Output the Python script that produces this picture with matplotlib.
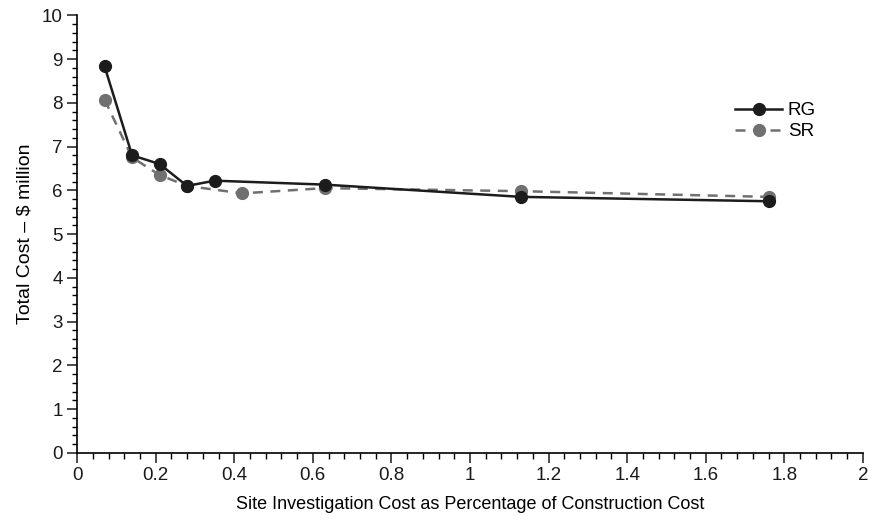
import matplotlib
matplotlib.use("Agg")
import matplotlib.pyplot as plt
from matplotlib.ticker import MultipleLocator

plt.rcParams['font.family'] = ['Liberation Sans', 'DejaVu Sans']

# Total cost vs. site investigation spend, two approaches
rg_x = [0.07, 0.14, 0.21, 0.28, 0.35, 0.63, 1.13, 1.76]
rg_y = [8.83, 6.80, 6.60, 6.10, 6.22, 6.13, 5.85, 5.75]

sr_x = [0.07, 0.14, 0.21, 0.28, 0.42, 0.63, 1.13, 1.76]
sr_y = [8.07, 6.75, 6.35, 6.10, 5.93, 6.05, 5.98, 5.85]

x_ticks = [0, 0.2, 0.4, 0.6, 0.8, 1.0, 1.2, 1.4, 1.6, 1.8, 2.0]
x_tick_labels = ['0', '0.2', '0.4', '0.6', '0.8', '1', '1.2', '1.4', '1.6', '1.8', '2']


def main():
    fig = plt.figure(figsize=(8.76, 5.26), dpi=100)
    ax = fig.add_axes([0.088, 0.139, 0.897, 0.832])

    ax.plot(rg_x, rg_y, color='#1c1c1c', lw=1.8, marker='o', ms=8.5,
            label='RG', zorder=3)
    ax.plot(sr_x, sr_y, color='#707070', lw=1.8, ls=(0, (4, 3)), marker='o',
            ms=8.5, label='SR', zorder=2)

    ax.set_xlim(0, 2)
    ax.set_ylim(0, 10)
    ax.set_xticks(x_ticks)
    ax.set_xticklabels(x_tick_labels)
    ax.yaxis.set_major_locator(MultipleLocator(1))
    ax.xaxis.set_minor_locator(MultipleLocator(0.04))
    ax.yaxis.set_minor_locator(MultipleLocator(0.2))

    for side in ('top', 'right'):
        ax.spines[side].set_visible(False)
    for side in ('left', 'bottom'):
        ax.spines[side].set_linewidth(1.2)

    ax.tick_params(axis='both', which='major', direction='out', length=7,
                   width=1.1, labelsize=13.5, colors='#1a1a1a')
    ax.tick_params(axis='x', which='minor', direction='out', length=4.5, width=1.0)
    ax.tick_params(axis='y', which='minor', direction='out', length=3.5, width=1.0)

    ax.set_xlabel('Site Investigation Cost as Percentage of Construction Cost',
                  fontsize=13, labelpad=8)
    ax.set_ylabel('Total Cost \u2013 $ million', fontsize=14, labelpad=6)

    ax.legend(loc='upper left', bbox_to_anchor=(0.816, 0.84), frameon=False,
              fontsize=13.5, handlelength=2.5, handletextpad=0.3,
              labelspacing=0.2)

    fig.savefig('out.png', dpi=100)


if __name__ == "__main__":
    main()
